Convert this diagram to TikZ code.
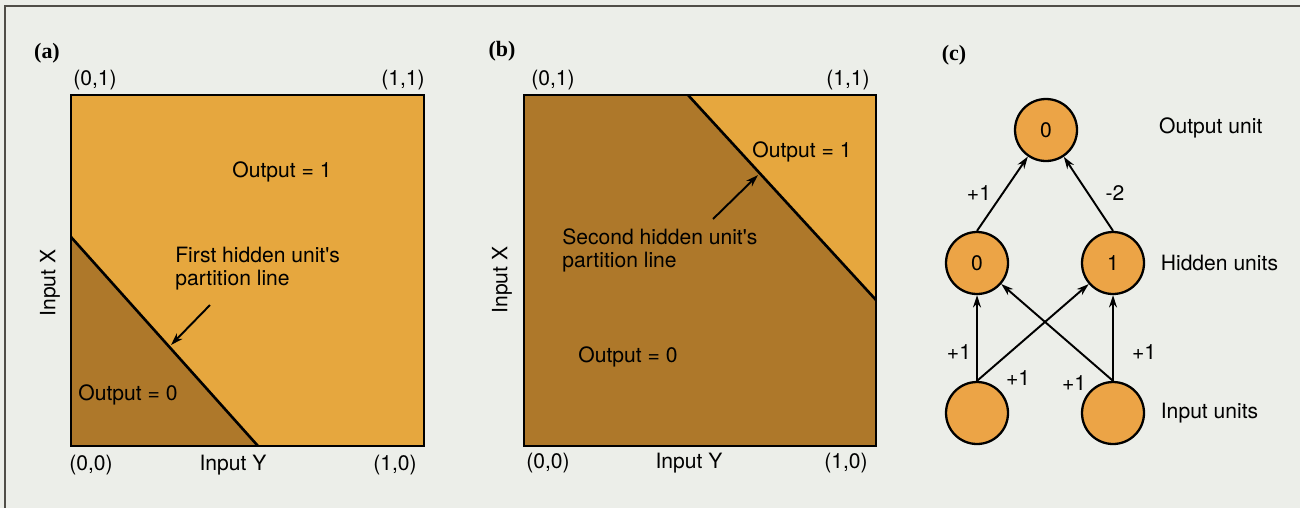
\documentclass[tikz,border=0pt]{standalone}
\usepackage{fontspec}
\setmainfont{TeX Gyre Heros}
\newfontfamily\tagfont{Liberation Serif}
\usetikzlibrary{arrows.meta, positioning}
\definecolor{paper}{RGB}{236, 238, 233}
\definecolor{frameline}{RGB}{80, 78, 72}
\definecolor{hiorange}{RGB}{230, 167, 62}
\definecolor{loorange}{RGB}{174, 120, 42}
\definecolor{unitorange}{RGB}{236, 164, 70}

\begin{document}
\begin{tikzpicture}[
  x = 0.02cm, y = -0.02cm,
  every node/.style = {font=\fontsize{12}{13}\selectfont},
  tag/.style    = {font=\tagfont\bfseries\fontsize{12.5}{14}\selectfont},
  region/.style = {draw=black, line width=1.5pt},
  part/.style   = {line width=1.5pt},
  unit/.style   = {circle, draw=black, line width=1.3pt, fill=unitorange,
                   minimum size=1.24cm, inner sep=0pt},
  wlab/.style   = {inner sep=1pt},
  arr/.style    = {-{Stealth[length=7pt, width=4.5pt]}, line width=1.1pt}
]
\fill[paper] (0,0) rectangle (1300,508);
\useasboundingbox (0,0) rectangle (1300,508);
\draw[frameline, line width=1.2pt] (1300,6) -- (5,6) -- (5,508);

% (a)
\fill[hiorange] (71,95) rectangle (424,446);
\fill[loorange] (71,237) -- (258,446) -- (71,446) -- cycle;
\draw[part] (71,237) -- (258,446);
\draw[region] (71,95) rectangle (424,446);

\node[tag] (taga) at (47,53) {(a)};
\node (a01) at (95,80) {(0,1)};
\node (a11) at (403,80) {(1,1)};
\node (a00) at (91,465) {(0,0)};
\node (ainy) at (233,465) {Input Y};
\node (a10) at (395,465) {(1,0)};
\node[rotate=90] (ainx) at (50,283) {Input X};
\node (aone) at (282,172) {Output = 1};
\node (azero) at (128,395) {Output = 0};
\node[anchor=west, align=left, inner sep=0pt] (afirst) at (175,269)
  {First hidden unit\textquotesingle s\\partition line};
\coordinate (atail) at (210,305);
\coordinate (atip) at (171,345);
\draw[arr] (atail) -- (atip);

% (b)
\fill[loorange] (524,95) rectangle (876,446);
\fill[hiorange] (688,95) -- (876,95) -- (876,300) -- cycle;
\draw[part] (688,95) -- (876,300);
\draw[region] (524,95) rectangle (876,446);

\node[tag] (tagb) at (502,51) {(b)};
\node (b01) at (553,80) {(0,1)};
\node (b11) at (848,80) {(1,1)};
\node (b00) at (548,463) {(0,0)};
\node (biny) at (689,463) {Input Y};
\node (b10) at (846,463) {(1,0)};
\node[rotate=90] (binx) at (502,280) {Input X};
\node (bone) at (802,152) {Output = 1};
\node (bzero) at (628,357) {Output = 0};
\node[anchor=west, align=left, inner sep=0pt] (bsecond) at (562,250)
  {Second hidden unit\textquotesingle s\\partition line};
\coordinate (btail) at (713,219);
\coordinate (btip) at (758,175);
\draw[arr] (btail) -- (btip);

% (c)
\node[tag] (tagc) at (954,55) {(c)};
\node[unit] (out)  at (1046,130) {0};
\node[unit] (hid0) at (977,263)  {0};
\node[unit] (hid1) at (1113,263) {1};
\node[unit] (inp0) at (977,413)  {};
\node[unit] (inp1) at (1113,413) {};

\node[anchor=west] (outlab) at (1153,128) {Output unit};
\node[right=0.19cm of hid1] (hidlab) {Hidden units};
\node[right=0.19cm of inp1] (inplab) {Input units};

\draw[arr] (hid0.north) -- (out);
\draw[arr] (hid1.north) -- (out);
\draw[arr] (inp0.north) -- (hid0);
\draw[arr] (inp1.north) -- (hid1);
\draw[arr] (inp0.north) -- (hid1);
\draw[arr] (inp1.north) -- (hid0);

\node[wlab] (w1) at (979,193)  {+1};
\node[wlab] (w2) at (1115,193) {-2};
\node[wlab] (w3) at (959,352)  {+1};
\node[wlab] (w4) at (1144,352) {+1};
\node[wlab] (w5) at (1018,378) {+1};
\node[wlab] (w6) at (1074,383) {+1};
\end{tikzpicture}
\end{document}
